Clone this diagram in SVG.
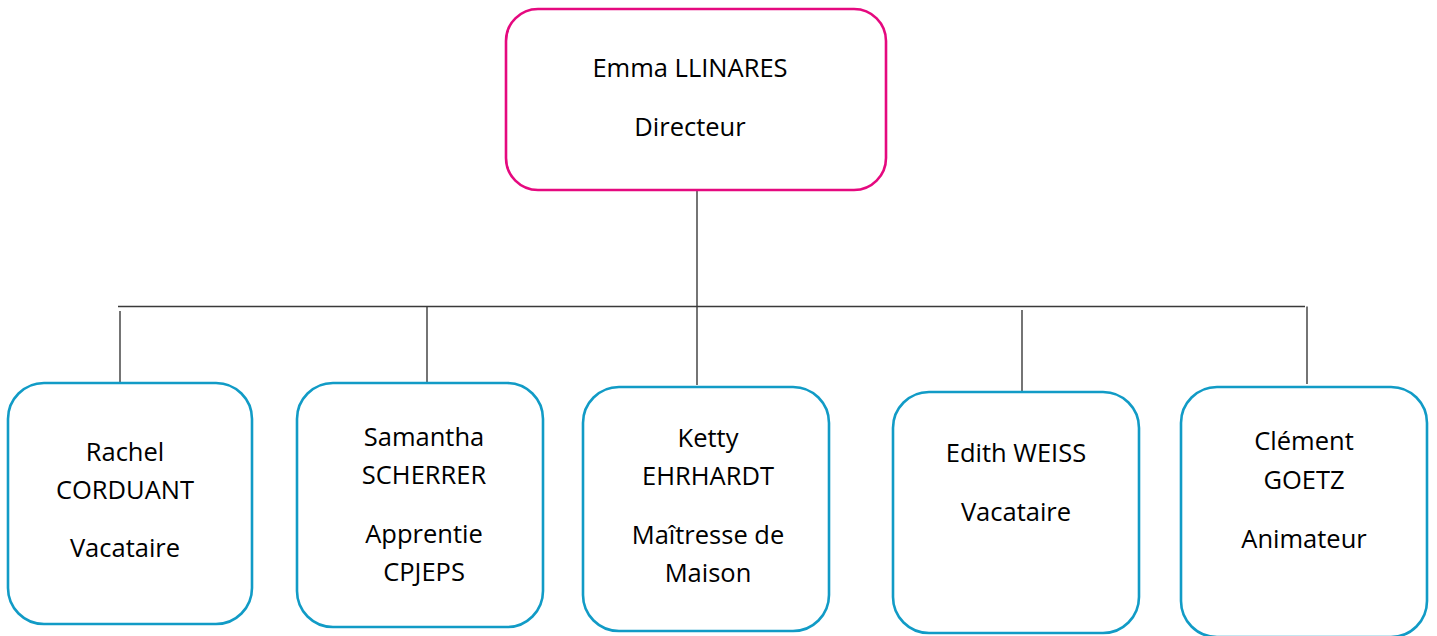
<svg xmlns="http://www.w3.org/2000/svg" width="1437" height="636" viewBox="0 0 1437 636">
<style>
.box{fill:#fff;stroke-width:2.6}
.pink{stroke:#E5097F}
.blue{stroke:#119BC6}
.lbl{font-family:"Open Sans","Liberation Sans",sans-serif;font-size:25.5px;fill:#000;text-anchor:middle}
.con{stroke:#3a3a3a;stroke-width:1.4;fill:none}
</style>
<rect width="1437" height="636" fill="#fff"/>
<g id="connectors">
<line class="con" x1="697" y1="191" x2="697" y2="385"/>
<line class="con" x1="118" y1="306.5" x2="1305" y2="306.5"/>
<line class="con" x1="120" y1="311" x2="120" y2="387"/>
<line class="con" x1="427" y1="306.5" x2="427" y2="383"/>
<line class="con" x1="1022" y1="310" x2="1022" y2="391"/>
<line class="con" x1="1307" y1="306.5" x2="1307" y2="384"/>
</g>
<g id="n-emma">
<rect class="box pink" x="506" y="9" width="380" height="181" rx="32"/>
<text class="lbl" x="690" y="77">Emma LLINARES</text>
<text class="lbl" x="690" y="136">Directeur</text>
</g>
<g id="n-rachel">
<rect class="box blue" x="8" y="383" width="244" height="241" rx="36"/>
<text class="lbl" x="125" y="461">Rachel</text>
<text class="lbl" x="125" y="499">CORDUANT</text>
<text class="lbl" x="125" y="557">Vacataire</text>
</g>
<g id="n-samantha">
<rect class="box blue" x="297" y="383" width="246" height="244" rx="36"/>
<text class="lbl" x="424" y="446">Samantha</text>
<text class="lbl" x="424" y="484">SCHERRER</text>
<text class="lbl" x="424" y="543">Apprentie</text>
<text class="lbl" x="424" y="581">CPJEPS</text>
</g>
<g id="n-ketty">
<rect class="box blue" x="583" y="387" width="246" height="244" rx="36"/>
<text class="lbl" x="708" y="447">Ketty</text>
<text class="lbl" x="708" y="485">EHRHARDT</text>
<text class="lbl" x="708" y="544">Maîtresse de</text>
<text class="lbl" x="708" y="582">Maison</text>
</g>
<g id="n-edith">
<rect class="box blue" x="893" y="392" width="246" height="241" rx="36"/>
<text class="lbl" x="1016" y="462">Edith WEISS</text>
<text class="lbl" x="1016" y="521">Vacataire</text>
</g>
<g id="n-clement">
<rect class="box blue" x="1181" y="387" width="246" height="250" rx="36"/>
<text class="lbl" x="1304" y="450">Clément</text>
<text class="lbl" x="1304" y="489">GOETZ</text>
<text class="lbl" x="1304" y="548">Animateur</text>
</g>
</svg>
